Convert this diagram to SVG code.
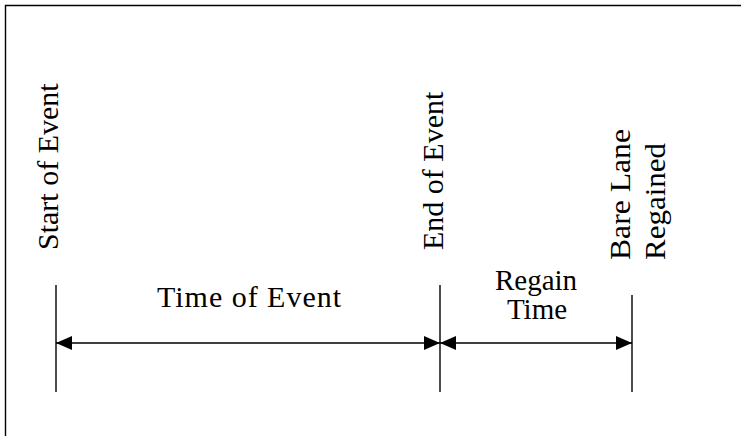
<svg xmlns="http://www.w3.org/2000/svg" width="741" height="436" viewBox="0 0 741 436">
<style>
  .t { font-family: "Liberation Serif", "Times New Roman", serif; font-size: 30px; fill: #000; }
  .ln { stroke: #000; stroke-width: 1.4; fill: none; }
</style>
<defs>
  <marker id="ah" viewBox="0 0 16 14" refX="16" refY="7" markerWidth="16" markerHeight="14" markerUnits="userSpaceOnUse" orient="auto-start-reverse">
    <path d="M0,0 L16,7 L0,14 Z" fill="#000"/>
  </marker>
</defs>
<rect x="0" y="0" width="741" height="436" fill="#fff"/>
<g id="frame">
  <path d="M5.5,436 L5.5,5.5 L741,5.5" class="ln" stroke-width="1.6"/>
</g>
<g id="start-of-event">
  <line x1="56" y1="285" x2="56" y2="392" class="ln"/>
  <text class="t" transform="translate(58,250) rotate(-90)">Start of Event</text>
</g>
<g id="end-of-event">
  <line x1="440" y1="285" x2="440" y2="392" class="ln"/>
  <text class="t" transform="translate(443,250) rotate(-90)">End of Event</text>
</g>
<g id="bare-lane-regained">
  <line x1="632" y1="295" x2="632" y2="392" class="ln"/>
  <text class="t" transform="translate(630,260) rotate(-90)" textLength="131" lengthAdjust="spacingAndGlyphs">Bare Lane</text>
  <text class="t" transform="translate(665,260) rotate(-90)" textLength="117" lengthAdjust="spacingAndGlyphs">Regained</text>
</g>
<g id="time-of-event-label">
  <text class="t" x="157" y="307" textLength="184" lengthAdjust="spacing">Time of Event</text>
</g>
<g id="regain-time-label">
  <text class="t" x="536" y="290" text-anchor="middle" style="font-size:29px">Regain</text>
  <text class="t" x="537" y="319" text-anchor="middle" style="font-size:29px">Time</text>
</g>
<g id="connectors">
  <line x1="56" y1="343" x2="440" y2="343" class="ln" marker-start="url(#ah)" marker-end="url(#ah)"/>
  <line x1="440" y1="343" x2="632" y2="343" class="ln" marker-start="url(#ah)" marker-end="url(#ah)"/>
</g>
</svg>
